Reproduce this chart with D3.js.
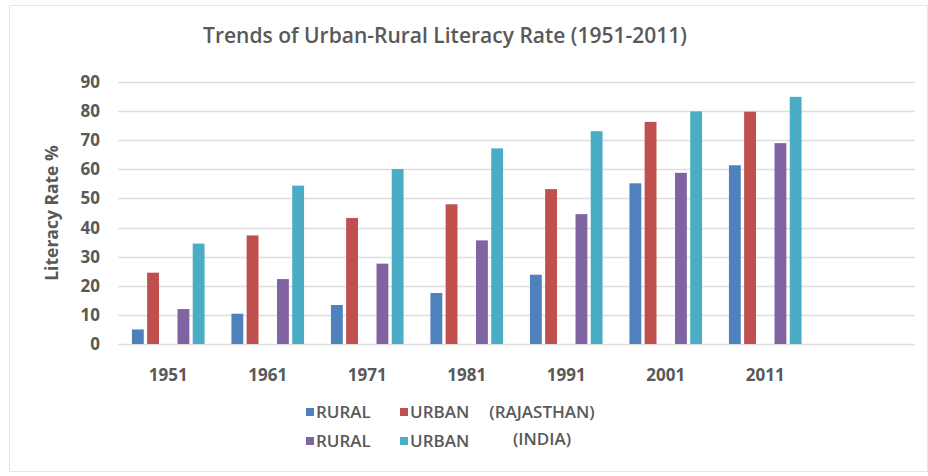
<!DOCTYPE html>
<html>
<head>
<meta charset="utf-8">
<script src="https://cdn.jsdelivr.net/npm/d3@7"></script>
<style>
  body { margin: 0; background: #fff; }
  text { font-family: "Open Sans", sans-serif; }
</style>
</head>
<body>
<div id="chart"></div>
<script>
// Categories (last slot is empty, as in the original Excel chart)
const years = ["1951", "1961", "1971", "1981", "1991", "2001", "2011", ""];
const ruralRajasthan = [5, 10.4, 13.4, 17.5, 23.8, 55.2, 61.4];
const urbanRajasthan = [24.5, 37.3, 43.3, 48, 53.2, 76.3, 79.8];
const ruralIndia = [12, 22.3, 27.6, 35.6, 44.6, 58.8, 69];
const urbanIndia = [34.5, 54.4, 60.1, 67.2, 73.1, 79.9, 84.9];
const yTicks = [0, 10, 20, 30, 40, 50, 60, 70, 80, 90];

const series = [
    { key: "ruralRaj", name: "RURAL", values: ruralRajasthan, color: "#4F81BD" },
    { key: "urbanRaj", name: "URBAN", values: urbanRajasthan, color: "#C0504D" },
    { key: "gap", name: "", values: [], color: "none" },
    { key: "ruralInd", name: "RURAL", values: ruralIndia, color: "#8064A2" },
    { key: "urbanInd", name: "URBAN", values: urbanIndia, color: "#4BACC6" }
];

const W = 928, H = 476;
const margin = { top: 82, right: 13, bottom: 132, left: 118 },
    width = W - margin.left - margin.right,
    height = H - margin.top - margin.bottom;

const root = d3.select("#chart").append("svg")
    .attr("width", W)
    .attr("height", H);

// chart border
root.append("rect")
    .attr("x", 9.5).attr("y", 5.5)
    .attr("width", W - 10).attr("height", H - 10)
    .attr("fill", "none")
    .attr("stroke", "#e6e6e6");

// Title
root.append("text")
    .attr("x", 445)
    .attr("y", 43)
    .attr("text-anchor", "middle")
    .attr("fill", "#595959")
    .attr("font-size", "21px")
    .attr("font-weight", 600)
    .text("Trends of Urban-Rural Literacy Rate (1951-2011)");

const svg = root.append("g")
    .attr("transform", `translate(${margin.left},${margin.top})`);

const x0 = d3.scaleBand()
    .domain(years)
    .range([0, width])
    .paddingInner(0.27)
    .paddingOuter(0.14);

const x1 = d3.scaleBand()
    .domain(series.map(s => s.key))
    .range([0, x0.bandwidth()])
    .paddingInner(0.22);

const y = d3.scaleLinear()
    .domain([0, 90])
    .range([height, 0]);

// gridlines
svg.append("g")
    .selectAll("line")
    .data(yTicks)
    .join("line")
    .attr("x1", 0)
    .attr("x2", width)
    .attr("y1", d => Math.round(y(d)) + 0.5)
    .attr("y2", d => Math.round(y(d)) + 0.5)
    .attr("stroke", "#dedede")
    .attr("stroke-width", 1.5);

// Y axis labels
svg.append("g")
    .call(d3.axisLeft(y).tickValues(yTicks).tickSize(0).tickPadding(18))
    .call(g => g.select(".domain").remove())
    .selectAll("text")
    .attr("fill", "#595959")
    .attr("font-size", "17px")
    .attr("font-weight", "bold");

// X axis labels
svg.append("g")
    .attr("transform", `translate(0,${height})`)
    .call(d3.axisBottom(x0).tickSize(0).tickPadding(25))
    .call(g => g.select(".domain").remove())
    .selectAll("text")
    .attr("fill", "#595959")
    .attr("font-size", "17px")
    .attr("font-weight", "bold");

// Y axis title
root.append("text")
    .attr("transform", "rotate(-90)")
    .attr("x", -213)
    .attr("y", 58)
    .attr("text-anchor", "middle")
    .attr("fill", "#595959")
    .attr("font-size", "17.5px")
    .attr("font-weight", "bold")
    .text("Literacy Rate %");

// bars
series.filter(s => s.key !== "gap").forEach(s => {
    svg.append("g")
        .selectAll("rect")
        .data(s.values.map((v, i) => ({ year: years[i], v })))
        .join("rect")
        .attr("x", d => x0(d.year) + x1(s.key))
        .attr("y", d => y(d.v))
        .attr("width", x1.bandwidth())
        .attr("height", d => y(0) - y(d.v))
        .attr("fill", s.color);
});

// Legend
const legend = root.append("g").attr("class", "legend");
const legendItems = [
    { s: series[0], col: 0, row: 0 },
    { s: series[1], col: 1, row: 0 },
    { s: series[3], col: 0, row: 1 },
    { s: series[4], col: 1, row: 1 }
];
legendItems.forEach(d => {
    const gx = 306 + d.col * 94, gy = 412 + d.row * 29;
    legend.append("rect")
        .attr("x", gx).attr("y", gy - 4)
        .attr("width", 8).attr("height", 8)
        .attr("fill", d.s.color);
    legend.append("text")
        .attr("x", gx + 10).attr("y", gy)
        .attr("dy", "0.35em")
        .attr("fill", "#595959")
        .attr("font-size", "17px")
        .attr("font-weight", 600)
        .text(d.s.name);
});
[["(RAJASTHAN)", 412], ["(INDIA)", 439]].forEach(([t, gy]) => {
    legend.append("text")
        .attr("x", 542).attr("y", gy)
        .attr("dy", "0.35em")
        .attr("text-anchor", "middle")
        .attr("fill", "#595959")
        .attr("font-size", "17px")
        .attr("font-weight", 600)
        .text(t);
});
</script>
</body>
</html>
